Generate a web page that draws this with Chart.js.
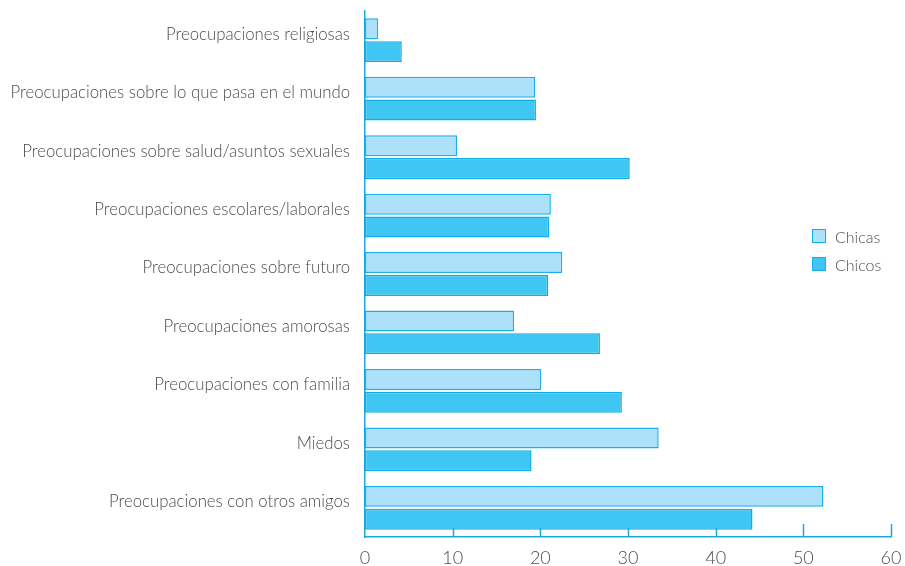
<!DOCTYPE html>
<html>
<head>
<meta charset="utf-8">
<script src="https://cdn.jsdelivr.net/npm/chart.js@4/dist/chart.umd.min.js"></script>
<style>
  html, body { margin: 0; padding: 0; background: #fff; }
  #wrap { position: relative; width: 905px; height: 566px; }
  canvas { display: block; }
  #legend { position: absolute; left: 812px; top: 222px; font-family: Lato, sans-serif; font-weight: 300; font-size: 16px; color: #4d4d4d; }
  .item { display: flex; align-items: center; height: 28px; }
  .box { width: 14px; height: 14px; border: 1.5px solid #12ade6; margin-right: 9px; box-sizing: border-box; }
</style>
</head>
<body>
<div id="wrap">
  <canvas id="chart" width="905" height="566"></canvas>
  <div id="legend"></div>
</div>
<script>
const categories = [
    'Preocupaciones religiosas',
    'Preocupaciones sobre lo que pasa en el mundo',
    'Preocupaciones sobre salud/asuntos sexuales',
    'Preocupaciones escolares/laborales',
    'Preocupaciones sobre futuro',
    'Preocupaciones amorosas',
    'Preocupaciones con familia',
    'Miedos',
    'Preocupaciones con otros amigos'
];
const chicas = [1.5, 19.4, 10.5, 21.2, 22.5, 17.0, 20.1, 33.5, 52.3];
const chicos = [4.2, 19.5, 30.2, 21.0, 20.9, 26.8, 29.3, 19.0, 44.2];
const xTicks = [0, 10, 20, 30, 40, 50, 60];

const AXIS = '#1aa8e2';
const series = [
    { label: 'Chicas', data: chicas, fill: '#ace1f9', border: '#1cb0e8' },
    { label: 'Chicos', data: chicos, fill: '#40c6f3', border: '#0daee8' }
];

// tick marks on the value axis point up into the plot, behind the bars
const innerTicks = {
    id: 'innerTicks',
    beforeDatasetsDraw(chart) {
        const x = chart.scales.x, ctx = chart.ctx;
        ctx.save();
        ctx.strokeStyle = AXIS;
        ctx.lineWidth = 1.5;
        xTicks.slice(1).forEach(v => {
            const px = Math.round(x.getPixelForValue(v)) + 0.5;
            ctx.beginPath();
            ctx.moveTo(px, x.top);
            ctx.lineTo(px, x.top - 13);
            ctx.stroke();
        });
        ctx.restore();
    }
};

new Chart(document.getElementById('chart'), {
    type: 'bar',
    data: {
        labels: categories,
        datasets: series.map(s => ({
            label: s.label, data: s.data,
            backgroundColor: s.fill, borderColor: s.border,
            borderWidth: 1.5, borderSkipped: false,
            categoryPercentage: 0.78, barPercentage: 0.92
        }))
    },
    options: {
        indexAxis: 'y',
        responsive: false,
        animation: false,
        layout: { padding: { top: 11, right: 14, left: 0, bottom: 0 } },
        plugins: { legend: { display: false }, tooltip: { enabled: false } },
        scales: {
            x: {
                min: 0, max: 60,
                afterBuildTicks: s => { s.ticks = xTicks.map(v => ({ value: v })); },
                afterFit: s => { s.height = 29; s.paddingLeft = 0; s.paddingRight = 0; },
                grid: { display: false, drawTicks: false, tickLength: 0 },
                border: { display: true, color: AXIS, width: 1.5 },
                ticks: { padding: 10, color: '#4d4d4d', font: { family: 'Lato', weight: 300, size: 18 } }
            },
            y: {
                afterFit: s => { s.width = 365; s.paddingTop = 0; s.paddingBottom = 0; },
                grid: { display: false, drawTicks: false, tickLength: 0 },
                border: { display: true, color: AXIS, width: 1.5 },
                ticks: { padding: 15, labelOffset: -6, color: '#4d4d4d', font: { family: 'Lato', weight: 300, size: 16.8 } }
            }
        }
    },
    plugins: [innerTicks]
});

document.getElementById('legend').innerHTML = series.map(s =>
    `<div class="item"><span class="box" style="background:${s.fill}"></span>${s.label}</div>`).join('');
</script>
</body>
</html>
